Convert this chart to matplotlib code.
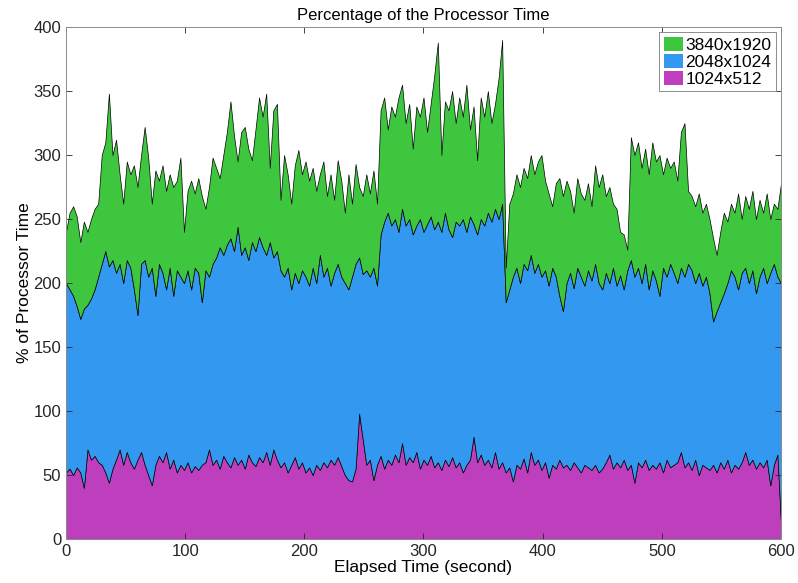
import numpy as np
import matplotlib
matplotlib.use("Agg")
import matplotlib.pyplot as plt

plt.rcParams['font.family'] = ['Liberation Sans', 'DejaVu Sans']

# sample times (seconds), one reading every 3 s
elapsed = np.arange(0, 601, 3)

# % processor time of the 1024x512 run (bottom layer)
cpu_1024 = [
    52, 55, 50, 56, 52, 40, 70, 62, 65, 60,
    58, 52, 44, 55, 62, 70, 58, 68, 60, 55,
    62, 68, 58, 50, 42, 58, 65, 60, 68, 55,
    62, 52, 58, 54, 60, 52, 57, 54, 58, 60,
    70, 58, 62, 55, 65, 60, 56, 64, 58, 62,
    55, 66, 60, 57, 64, 60, 68, 58, 70, 62,
    56, 60, 52, 58, 64, 55, 60, 52, 56, 50,
    58, 54, 60, 56, 62, 58, 64, 57, 50, 46,
    45, 55, 98, 78, 58, 62, 46, 58, 65, 55,
    62, 58, 66, 60, 75, 58, 64, 60, 68, 55,
    62, 58, 65, 56, 60, 54, 62, 57, 64, 56,
    60, 52, 58, 62, 80, 60, 66, 58, 62, 56,
    68, 55, 60, 52, 56, 45, 58, 55, 63, 52,
    68, 58, 62, 54, 60, 48, 58, 55, 62, 56,
    58, 54, 60, 56, 52, 58, 56, 54, 58, 52,
    55, 60, 66, 55, 60, 56, 62, 54, 58, 44,
    60, 56, 62, 54, 58, 55, 60, 52, 62, 56,
    58, 60, 68, 56, 60, 54, 62, 50, 58, 56,
    54, 58, 52, 60, 55, 62, 52, 58, 55, 60,
    68, 58, 62, 55, 60, 56, 62, 42, 58, 66,
    12,
]

# stacked level 1024x512 + 2048x1024 (top of blue band)
stack_2048 = [
    200, 195, 190, 182, 172, 180, 183, 188, 195, 205,
    215, 225, 213, 218, 208, 215, 200, 218, 212, 195,
    175, 215, 218, 205, 212, 190, 215, 208, 195, 212,
    190, 210, 205, 200, 210, 195, 212, 208, 185, 210,
    205, 215, 220, 228, 222, 230, 235, 225, 244, 222,
    228, 218, 232, 225, 236, 228, 222, 232, 220, 225,
    210, 205, 212, 195, 208, 200, 210, 205, 198, 212,
    200, 222, 205, 212, 198, 208, 215, 205, 200, 195,
    205, 215, 220, 207, 210, 205, 212, 198, 238, 248,
    255, 245, 250, 240, 258, 245, 250, 238, 245, 250,
    240, 246, 252, 242, 248, 240, 255, 242, 236, 248,
    245, 250, 240, 252, 246, 238, 250, 245, 255, 248,
    258, 250, 262, 185, 195, 205, 212, 200, 215, 210,
    222, 208, 215, 205, 210, 198, 212, 205, 190, 178,
    200, 208, 196, 212, 205, 198, 210, 202, 215, 200,
    195, 208, 200, 212, 198, 206, 195, 210, 218, 205,
    212, 200, 215, 195, 210, 202, 190, 212, 205, 215,
    208, 200, 212, 205, 215, 210, 200, 208, 198, 205,
    192, 170, 178, 185, 192, 200, 210, 205, 195, 208,
    212, 200, 210, 192, 205, 212, 200, 208, 215, 205,
    200,
]

# stacked total of all three runs (top of green band)
stack_3840 = [
    240, 255, 260, 252, 232, 248, 240, 250, 258, 262,
    300, 310, 348, 300, 312, 285, 262, 295, 285, 292,
    275, 300, 322, 298, 262, 288, 280, 292, 272, 285,
    275, 280, 298, 240, 272, 280, 270, 282, 268, 258,
    275, 298, 290, 282, 300, 318, 342, 315, 295, 318,
    322, 305, 296, 320, 345, 330, 348, 290, 335, 340,
    265, 300, 285, 262, 292, 304, 285, 295, 280, 290,
    272, 285, 295, 268, 285, 265, 296, 280, 255, 285,
    262, 293, 275, 268, 285, 270, 288, 262, 335, 345,
    320, 338, 330, 345, 355, 325, 340, 305, 338, 330,
    345, 318, 340, 362, 388, 300, 342, 335, 350, 325,
    345, 330, 355, 320, 338, 296, 345, 330, 350, 325,
    340, 360, 390, 212, 262, 270, 285, 275, 290, 282,
    300, 285, 295, 300, 280, 270, 260, 278, 282, 268,
    280, 272, 255, 282, 270, 265, 278, 260, 292, 275,
    285, 268, 275, 262, 258, 240, 238, 226, 314, 300,
    310, 290, 305, 285, 310, 295, 300, 285, 298, 290,
    295, 280, 318, 325, 272, 268, 260, 270, 255, 262,
    250, 235, 222, 240, 255, 248, 262, 255, 270, 250,
    268, 258, 272, 250, 265, 255, 270, 250, 262, 258,
    278,
]

labels = ['1024x512', '2048x1024', '3840x1920']
colors = ['#bd3fbd', '#3399f0', '#3fc63f']

cpu_1024 = np.array(cpu_1024, dtype=float)
cpu_2048 = np.array(stack_2048, dtype=float) - cpu_1024
cpu_3840 = np.array(stack_3840, dtype=float) - np.array(stack_2048, dtype=float)

fig = plt.figure(figsize=(7.98, 5.83), dpi=100)
ax = fig.add_axes([0.0827, 0.0755, 0.896, 0.878])

polys = ax.stackplot(elapsed, cpu_1024, cpu_2048, cpu_3840,
                     colors=colors, labels=labels,
                     edgecolor='black', linewidth=0.5)

ax.set_xlim(0, 600)
ax.set_ylim(0, 400)
ax.set_xticks(np.arange(0, 601, 100))
ax.set_yticks(np.arange(0, 401, 50))
ax.tick_params(direction='in', length=4, width=0.6, top=True, right=True,
               labelsize=12, colors='#262626')
for s in ax.spines.values():
    s.set_color('#8c8c8c')
    s.set_linewidth(0.7)

ax.set_title('Percentage of the Processor Time', fontsize=12, pad=5)
ax.set_xlabel('Elapsed Time (second)', fontsize=12.5, labelpad=1)
ax.set_ylabel('% of Processor Time', fontsize=12.5, labelpad=1)

# legend lists the top layer first, like the MATLAB figure
handles, lbls = ax.get_legend_handles_labels()
leg = ax.legend(handles[::-1], lbls[::-1], loc='upper right', fontsize=12.5,
                frameon=True, fancybox=False, framealpha=1,
                edgecolor='#8c8c8c', handlelength=1.1, handleheight=0.9,
                handletextpad=0.15, labelspacing=0.05, borderpad=0.25,
                borderaxespad=0.3)
leg.get_frame().set_linewidth(0.7)
for h in leg.legend_handles:
    h.set_edgecolor('none')

fig.savefig('out.png', dpi=100)
